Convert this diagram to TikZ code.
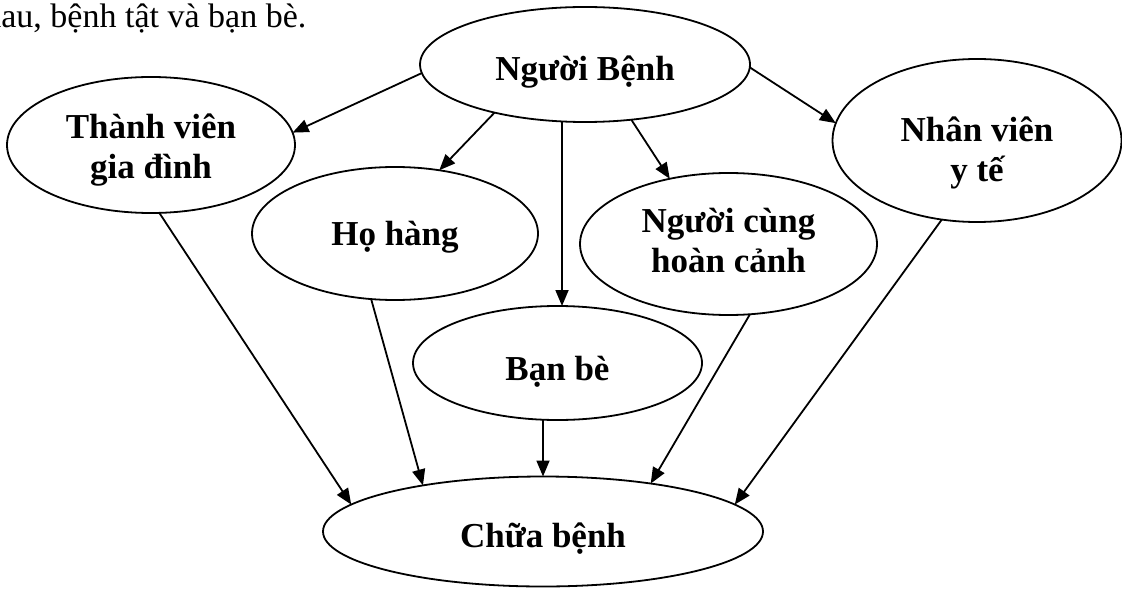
\documentclass[tikz,border=0pt]{standalone}
\usepackage{fontspec}
\setmainfont{Liberation Serif}
\usetikzlibrary{shapes.geometric, arrows.meta}

\begin{document}
\begin{tikzpicture}[
    x=0.5pt, y=-0.5pt,
    bubble/.style={ellipse, draw, line width=0.9pt, inner sep=0pt, outer sep=0pt, align=center, font=\fontsize{17.5}{20}\selectfont\bfseries},
    arrow/.style={line width=0.9pt, -{Triangle[length=8pt, width=6.5pt]}}
]
    \useasboundingbox (0,0) rectangle (1122,588);

    % line of running text above the diagram
    \node[anchor=base west, inner sep=0pt, font=\fontsize{17}{20}\selectfont] (intro) at (-16,28) {hau, bệnh tật và bạn bè.};

    \node [bubble, minimum width=165pt, minimum height=57.5pt, text height=16.5pt, text depth=0pt] (nb) at (585,64.5) {Người Bệnh};
    \node [bubble, minimum width=144pt, minimum height=68pt, text height=33pt, text depth=0pt] (tv) at (151,145) {Thành viên\\gia đình};
    \node [bubble, minimum width=143pt, minimum height=66.5pt, text height=11.5pt, text depth=0pt] (hh) at (395,233.5) {Họ hàng};
    \node [bubble, minimum width=144.5pt, minimum height=57pt, text height=17pt, text depth=0pt] (bb) at (557.5,363) {Bạn bè};
    \node [bubble, minimum width=148.5pt, minimum height=71pt, text height=28pt, text depth=0pt] (nchc) at (728.5,244) {Người cùng\\hoàn cảnh};
    \node [bubble, minimum width=144.5pt, minimum height=81.5pt, text height=41.5pt, text depth=0pt] (nv) at (977,140.5) {Nhân viên\\y tế};
    \node [bubble, minimum width=220pt, minimum height=55pt, text height=16pt, text depth=0pt] (cb) at (543,531.5) {Chữa bệnh};

    % from the patient
    \draw [arrow] (nb.183) -- (tv.5);
    \draw [arrow] (nb.208) -- (hh.55);
    \draw [arrow] (nb.248) -- (nb.248 |- bb.north);
    \draw [arrow] (nb.310) -- (nchc.132);
    \draw [arrow] (nb.359) -- (nv.173);

    % into the treatment
    \draw [arrow] (tv.277) -- (cb.172);
    \draw [arrow] (hh.250) -- (cb.159);
    \draw [arrow] (cb.north |- bb.south) -- (cb.north);
    \draw [arrow] (nchc.287) -- (cb.24);
    \draw [arrow] (nv.246) -- (cb.8);
\end{tikzpicture}
\end{document}
